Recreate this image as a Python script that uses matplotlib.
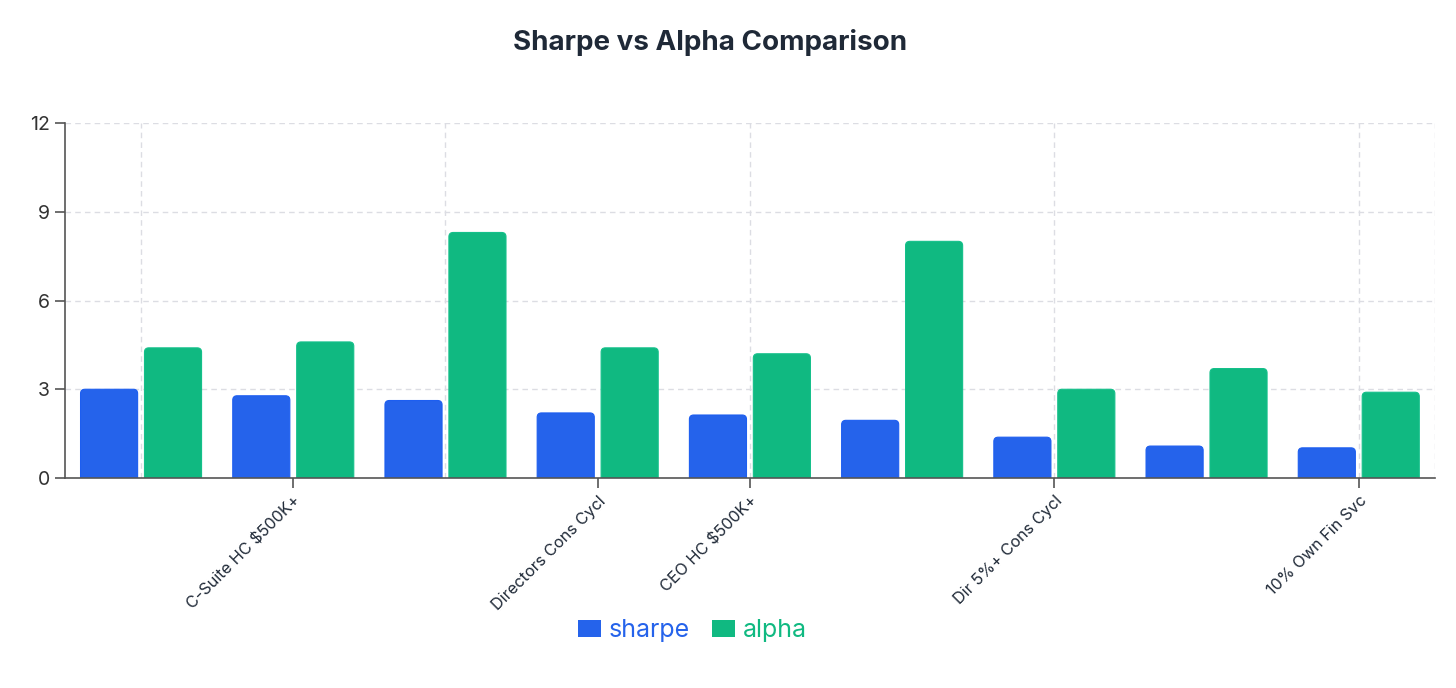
import matplotlib.pyplot as plt
from matplotlib.patches import FancyBboxPatch

plt.rcParams['font.family'] = ['Inter', 'DejaVu Sans']

# Data (only some category names are printed on the axis)
categories = ["", "C-Suite HC $500K+", "", "Directors Cons Cycl", "CEO HC $500K+",
              "", "Dir 5%+ Cons Cycl", "", "10% Own Fin Svc"]
sharpe = [3.0, 2.78, 2.62, 2.2, 2.13, 1.95, 1.38, 1.08, 1.02]
alpha = [4.4, 4.6, 8.3, 4.4, 4.2, 8.0, 3.0, 3.7, 2.9]

blue = "#2563eb"
green = "#10b981"

fig = plt.figure(figsize=(14.56, 6.88), dpi=100)
ax = fig.add_axes([0.0446, 0.3052, 0.9409, 0.5160])

x = list(range(len(sharpe)))
w = 0.375
b1 = ax.bar([i - 0.21 for i in x], sharpe, width=w, color=blue, label="sharpe")
b2 = ax.bar([i + 0.21 for i in x], alpha, width=w, color=green, label="alpha")

ax.set_xlim(-0.5, len(x) - 0.5)
ax.set_ylim(0, 12)

# legend first, while the plain bars are still visible
leg = fig.legend(handles=[b1, b2], loc="center", bbox_to_anchor=(0.4755, 0.083),
                 ncol=2, frameon=False, fontsize=18, handlelength=0.92,
                 handleheight=0.68, handletextpad=0.3, columnspacing=0.9)
for t, c in zip(leg.get_texts(), [blue, green]):
    t.set_color(c)

# swap plain bars for ones with rounded tops (bottom corners fall below y=0 and get clipped)
aspect = (1 / 29.58) / (1 / 152.2)
r = 0.028
for bars, col, edge in [(b1, blue, "#1d5ef0"), (b2, green, "#14c08a")]:
    for p in bars:
        p.set_visible(False)
        fb = FancyBboxPatch((p.get_x(), p.get_y() - r * aspect), p.get_width(),
                            p.get_height() + r * aspect,
                            boxstyle=f"round,pad=0,rounding_size={r}",
                            mutation_aspect=aspect, facecolor=col, edgecolor=edge,
                            linewidth=0.8, zorder=3)
        ax.add_patch(fb)

# grid
ax.set_yticks([0, 3, 6, 9, 12])
for yv in [3, 6, 9, 12]:
    ax.axhline(yv, color="#dcdde3", linestyle=(0, (4, 3)), linewidth=1, zorder=0)
for xv in list(range(0, len(x), 2)) + [len(x) - 0.5]:
    ax.axvline(xv, color="#dcdde3", linestyle=(0, (4, 3)), linewidth=1, zorder=0)

tick_pos = [i for i, c in enumerate(categories) if c]
ax.set_xticks(tick_pos)
ax.set_xticklabels([categories[i] for i in tick_pos], rotation=45, ha="right",
                   rotation_mode="anchor", fontsize=11.7, color="#1f2937")

for s in ["top", "right"]:
    ax.spines[s].set_visible(False)
for s in ["left", "bottom"]:
    ax.spines[s].set_color("#555555")
    ax.spines[s].set_linewidth(1.2)
    ax.spines[s].set_zorder(4)
ax.tick_params(axis="both", color="#555555", length=7, width=1.2)
ax.tick_params(axis="y", labelsize=14, labelcolor="#333333", pad=4)
ax.tick_params(axis="x", pad=4)

fig.text(0.488, 0.938, "Sharpe vs Alpha Comparison", ha="center", va="center",
         fontsize=20, fontweight="bold", color="#1f2937")

fig.savefig("out.png", dpi=100)
